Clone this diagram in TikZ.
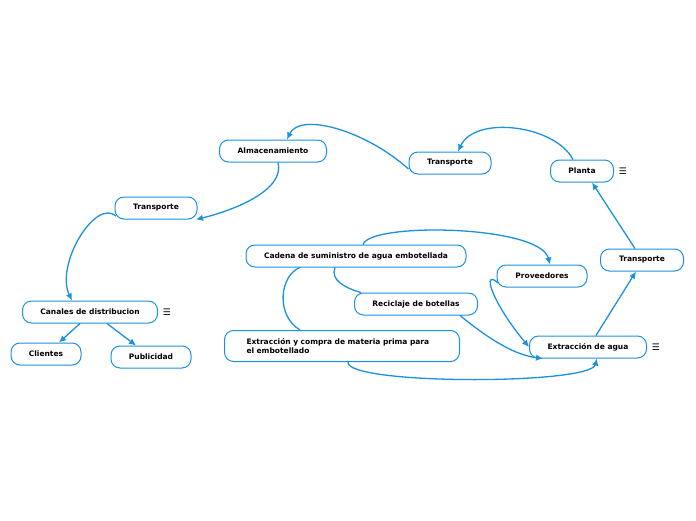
\documentclass[tikz,border=0pt]{standalone}
\usepackage{fontspec}
\setmainfont{DejaVu Sans}
\usetikzlibrary{arrows.meta}
\definecolor{lb}{RGB}{28,145,222}
\tikzset{
  box/.style={draw=lb, line width=1pt, rounded corners=9pt, minimum height=22pt, inner sep=2pt,
    font=\fontsize{7.5}{9.5}\selectfont\bfseries, text=black, fill=white},
  conn/.style={draw=lb, line width=1.3pt},
  arr/.style={conn, -{Latex[length=7pt,width=6.5pt]}},
  menu/.style={font=\fontsize{9}{9}\selectfont, text=black, inner sep=0pt}
}
\begin{document}
\begin{tikzpicture}[x=1pt,y=-1pt]
\useasboundingbox[fill=white] (0,0) rectangle (696,520);

\node[box, minimum width=107pt] (alm) at (273,151) {Almacenamiento};
\node[box, minimum width=82pt] (tt) at (450,163) {Transporte};
\node[box, minimum width=63pt] (pla) at (582,171) {Planta};
\node[box, minimum width=82pt] (tl) at (156,208) {Transporte};
\node[box, minimum width=220pt] (cad) at (356,256) {Cadena de suministro de agua embotellada};
\node[box, minimum width=90pt] (pro) at (542,276) {Proveedores};
\node[box, minimum width=83pt] (tr) at (642,260) {Transporte};
\node[box, minimum width=123pt] (rec) at (416,304) {Reciclaje de botellas};
\node[box, minimum width=135pt] (can) at (90,312) {Canales de distribucion};
\node[box, text width=191pt, inner xsep=22pt, minimum height=31pt, align=left] (ecm) at (342,346) {Extracción y compra de materia prima para\\el embotellado};
\node[box, minimum width=117pt] (agu) at (588,347) {Extracción de agua};
\node[box, minimum width=70pt] (cli) at (46,354) {Clientes};
\node[box, minimum width=80pt] (pub) at (151,357) {Publicidad};

\node[menu] (m1) at (623,171) {☰};
\node[menu] (m2) at (167,312) {☰};
\node[menu] (m3) at (656,347) {☰};

% connectors
\draw[arr] ([yshift=-6pt]tt.west) .. controls (365,130) and (300,112) .. ([xshift=14pt]alm.north);
\draw[arr] ([xshift=-9pt]pla.north) .. controls (555,125) and (475,115) .. ([xshift=8pt]tt.north);
\draw[arr] ([xshift=5pt]alm.south) .. controls (285,190) and (235,210) .. ([xshift=40pt]tl.south);
\draw[arr] ([xshift=-40pt,yshift=-8pt]tl.center) .. controls (95,198) and (55,265) .. ([xshift=-18pt]can.north);
\draw[arr] ([xshift=-10pt]can.south) -- ([xshift=13pt]cli.north);
\draw[arr] ([xshift=17pt]can.south) -- ([xshift=-15pt]pub.north);
\draw[arr] ([xshift=7pt]cad.north) .. controls (370,222) and (540,225) .. ([xshift=8pt]pro.north);
\draw[conn] ([xshift=-56pt]cad.south) .. controls (280,275) and (275,315) .. ([xshift=-42pt]ecm.north);
\draw[conn] ([xshift=-21pt]cad.south) .. controls (330,280) and (345,288) .. ([xshift=-55pt]rec.north);
\draw[arr] ([xshift=44pt]rec.south) .. controls (490,340) and (515,355) .. ([xshift=-45pt]agu.south);
\draw[arr] ([xshift=6pt]ecm.south) .. controls (345,385) and (590,385) .. ([xshift=9pt]agu.south);
\draw[arr] ([xshift=-44pt,yshift=-7pt]pro.center) .. controls (482,268) and (490,300) .. (agu.west);
\draw[arr] ([xshift=8pt]agu.north) -- ([xshift=-6pt]tr.south);
\draw[arr] ([xshift=-7pt]tr.north) -- ([xshift=10pt]pla.south);
\end{tikzpicture}
\end{document}
